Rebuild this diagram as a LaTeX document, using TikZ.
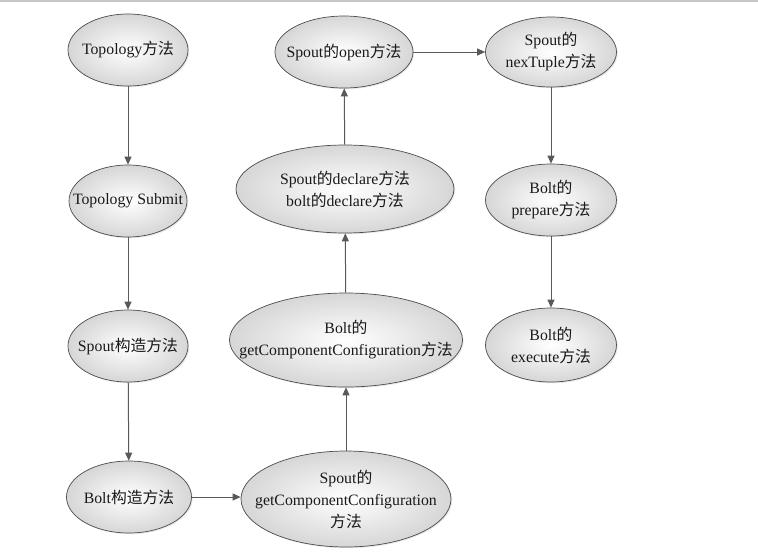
\documentclass[tikz,border=0pt]{standalone}
\usepackage{fontspec}
\setmainfont{Liberation Serif}
\newfontfamily\cjk{Noto Sans CJK SC}
\newcommand\zh[1]{{\cjk #1}}
\usetikzlibrary{shapes.geometric,arrows.meta,shadows}

\begin{document}
\begin{tikzpicture}[x=1pt,y=-1pt,
  meth/.style={ellipse, draw=gray!60!black, line width=0.7pt, inner color=white, outer color=gray!32,
    drop shadow={opacity=0.18,shadow xshift=1.2pt,shadow yshift=-1.2pt}, inner sep=0pt},
  txt/.style={font=\rmfamily\fontsize{15.8}{22}\selectfont, text=black!90, align=center, inner sep=0pt},
  flow/.style={draw=black!65, line width=1pt, -{Triangle[length=8pt,width=7pt]}}
]
\useasboundingbox (0,0) rectangle (758,558);
\draw[gray!45, line width=1.5pt] (0,0.75) -- (758,0.75);

% left column
\node[meth, minimum width=120pt, minimum height=72pt, label={[txt]center:Topology\zh{方法}}] (t1) at (128,50) {};
\node[meth, minimum width=118pt, minimum height=72pt, label={[txt]center:Topology Submit}] (t2) at (128,201) {};
\node[meth, minimum width=120pt, minimum height=72pt, label={[txt]center:Spout\zh{构造方法}}] (t3) at (128,346) {};
\node[meth, minimum width=125pt, minimum height=72pt, label={[txt]center:Bolt\zh{构造方法}}] (t4) at (129,497) {};

% middle column
\node[meth, minimum width=210pt, minimum height=96pt, label={[txt]center:{Spout\zh{的}\\getComponentConfiguration\\\zh{方法}}}] (m1) at (346,499) {};
\node[meth, minimum width=233pt, minimum height=94pt, label={[txt]center:{Bolt\zh{的}\\getComponentConfiguration\zh{方法}}}] (m2) at (346,340) {};
\node[meth, minimum width=218pt, minimum height=88pt, label={[txt]center:{Spout\zh{的}declare\zh{方法}\\bolt\zh{的}declare\zh{方法}}}] (m3) at (345,189) {};
\node[meth, minimum width=138pt, minimum height=72pt, label={[txt]center:Spout\zh{的}open\zh{方法}}] (m4) at (344,52) {};

% right column
\node[meth, minimum width=131pt, minimum height=70pt, label={[txt]center:{Spout\zh{的}\\nexTuple\zh{方法}}}] (r1) at (551,52) {};
\node[meth, minimum width=131pt, minimum height=72pt, label={[txt]center:{Bolt\zh{的}\\prepare\zh{方法}}}] (r2) at (551,200) {};
\node[meth, minimum width=131pt, minimum height=74pt, label={[txt]center:{Bolt\zh{的}\\execute\zh{方法}}}] (r3) at (551,345) {};

% connectors
\draw[flow] (t1) -- (t2);
\draw[flow] (t2) -- (t3);
\draw[flow] (t3) -- (t4);
\draw[flow] (t4.east) -- (m1.west |- t4.east);
\draw[flow] (m1) -- (m2);
\draw[flow] (m2) -- (m3);
\draw[flow] (m3) -- (m4);
\draw[flow] (m4) -- (r1);
\draw[flow] (r1) -- (r2);
\draw[flow] (r2) -- (r3);
\end{tikzpicture}
\end{document}
